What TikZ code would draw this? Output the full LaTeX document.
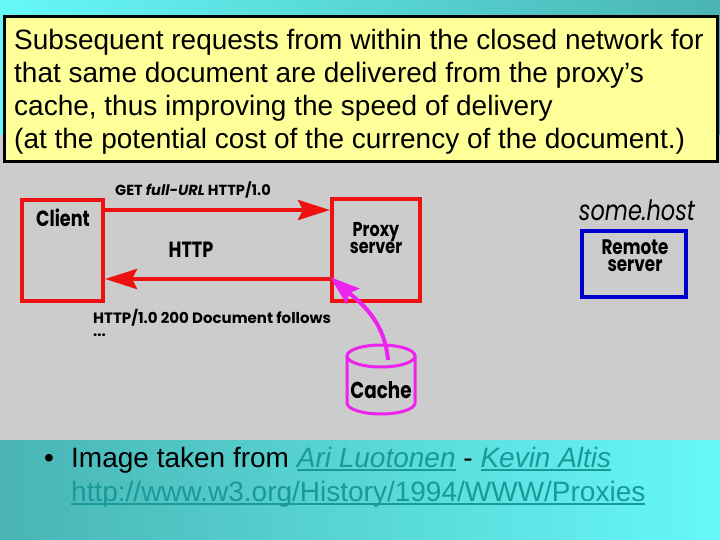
\documentclass[tikz,border=0pt]{standalone}
\usepackage{fontspec}
\setmainfont{Liberation Sans}
\newfontfamily\geo[FakeStretch=0.8]{Poppins}
\newfontfamily\geow{Poppins}
\usetikzlibrary{arrows.meta}
\newsavebox\ulbox
\newcommand\myul[1]{\sbox\ulbox{#1}\rlap{\rule[-4pt]{\wd\ulbox}{1.6pt}}\usebox\ulbox}
\definecolor{cyanL}{HTML}{66F8F8}
\definecolor{tealD}{HTML}{4AB4B4}
\definecolor{greyimg}{HTML}{CCCCCC}
\definecolor{boxyellow}{HTML}{FFFF99}
\definecolor{netred}{HTML}{EE1111}
\definecolor{cachemag}{HTML}{EE22EE}
\definecolor{remoteblue}{HTML}{0000CC}
\definecolor{linkc}{HTML}{1A9999}
\begin{document}
\begin{tikzpicture}[x=1pt,y=-1pt,
  redbox/.style={draw=netred,line width=4pt,inner sep=0pt},
  bluebox/.style={draw=remoteblue,line width=4pt,inner sep=0pt},
  redarrow/.style={draw=netred,line width=4.5pt,-{Stealth[length=32pt,width=20pt,inset=5pt]}},
  magarrow/.style={draw=cachemag,line width=4pt,-{Stealth[length=30pt,width=20pt,inset=5pt]}},
  cyl/.style={draw=cachemag,line width=3pt},
  lbl/.style={inner sep=0pt,font=\geo\bfseries\fontsize{22}{16}\selectfont,align=center},
  small/.style={inner sep=0pt,anchor=base west,font=\geow\bfseries\fontsize{15}{15}\selectfont},
  slide/.style={inner sep=0pt,anchor=base west,font=\fontsize{28}{33}\selectfont},
  note/.style={inner sep=0pt,anchor=base west,font=\fontsize{28}{33}\selectfont}]
\useasboundingbox (0,0) rectangle (720,540);
% background
\shade[left color=cyanL,right color=tealD] (0,0) rectangle (720,136);
\shade[left color=tealD,right color=cyanL] (0,440) rectangle (720,540);
\fill[greyimg] (0,135) rectangle (720,440);
% boxes
\node[redbox,minimum width=81pt,minimum height=101pt] (client) at (62.5,250.5) {};
\node[redbox,minimum width=88pt,minimum height=102pt] (proxy) at (376,250) {};
\node[bluebox,minimum width=104pt,minimum height=66pt] (remote) at (634,264) {};
\node[lbl] (clientlbl) at (63,218) {Client};
\node[lbl,font=\geo\bfseries\fontsize{20}{17}\selectfont] (proxylbl) at (376,238) {Proxy\\server};
\node[lbl,font=\geo\bfseries\fontsize{21}{17}\selectfont] (remotelbl) at (635,256) {Remote\\server};
\node[inner sep=0pt,font=\geo\itshape\fontsize{28}{28}\selectfont] (host) at (637,210) {some.host};
\node[lbl] (httplbl) at (191,250) {HTTP};
\node[small,font=\geow\bfseries\fontsize{14.6}{15}\selectfont] (getlbl) at (115,196) {GET {\itshape full-URL} HTTP/1.0};
\node[small] (resplbl) at (93,323) {HTTP/1.0 200 Document follows};
\node[small] (dots) at (93,336) {...};
% arrows
\draw[redarrow] (client.east |- 0,210) -- (proxy.west |- 0,210);
\draw[redarrow] (proxy.west |- 0,279) -- (client.east |- 0,279);
% cache
\draw[cyl] (381,356) ellipse[x radius=34pt,y radius=11pt];
\draw[cyl] (347,356) -- (347,403) arc[start angle=180,end angle=360,x radius=34pt,y radius=11pt] -- (415,356);
\node[lbl,font=\geo\bfseries\fontsize{23}{16}\selectfont] (cache) at (381,390) {Cache};
\coordinate (cachetop) at (388,360);
\draw[magarrow] (cachetop) to[out=95,in=-40] (proxy.west |- 0,277);
% text box
\draw[fill=boxyellow,line width=3pt] (4,17) rectangle (717,162);
\node[slide] (l1) at (14,50) {Subsequent requests from within the closed network for};
\node[slide] (l2) at (14,83) {that same document are delivered from the proxy’s};
\node[slide] (l3) at (14,116) {cache, thus improving the speed of delivery};
\node[slide] (l4) at (14,149) {(at the potential cost of the currency of the document.)};
% bottom note
\node[note] (bullet) at (44,467) {•};
\node[note] (n1) at (71,467) {Image taken from \textcolor{linkc}{\myul{\itshape Ari Luotonen}} - \textcolor{linkc}{\myul{\itshape Kevin Altis}}};
\node[note] (n2) at (71,501) {\textcolor{linkc}{\myul{http://www.w3.org/History/1994/WWW/Proxies}}};
\end{tikzpicture}
\end{document}
